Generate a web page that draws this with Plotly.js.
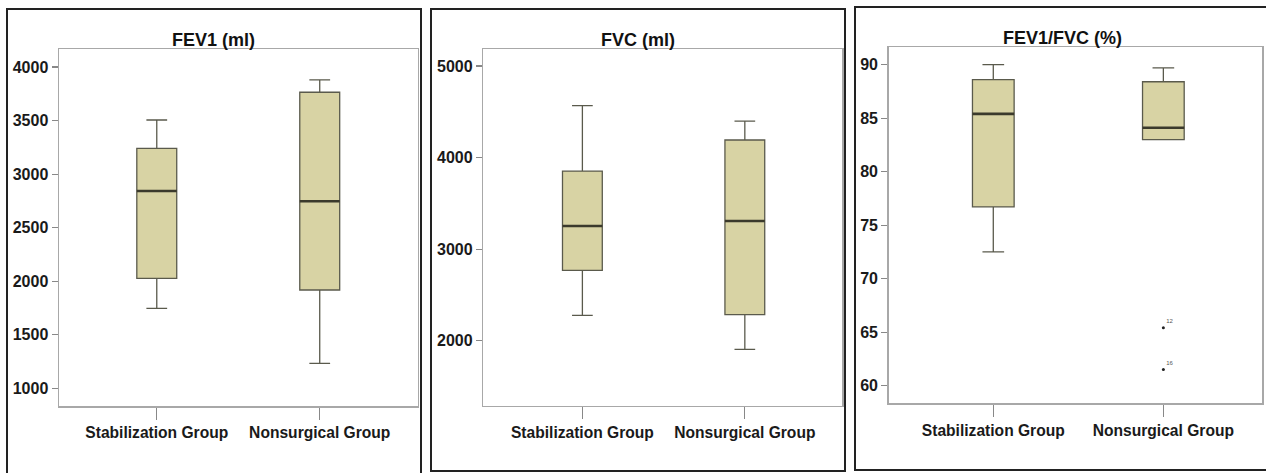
<!DOCTYPE html>
<html>
<head>
<meta charset="utf-8">
<script src="https://cdn.plot.ly/plotly-3.0.1.min.js"></script>
<style>
  html, body { margin: 0; padding: 0; background: #ffffff; }
  #chart { width: 1266px; height: 473px; }
</style>
</head>
<body>
<div id="chart"></div>
<script>
// ---- data ----
const groups = ["Stabilization Group", "Nonsurgical Group"];

// FEV1 (ml)
const fev1Lower  = [1747, 1233];
const fev1Q1     = [2027, 1918];
const fev1Median = [2842, 2746];
const fev1Q3     = [3241, 3764];
const fev1Upper  = [3505, 3879];
const fev1Ticks  = [1000, 1500, 2000, 2500, 3000, 3500, 4000];

// FVC (ml)
const fvcLower  = [2277, 1906];
const fvcQ1     = [2769, 2284];
const fvcMedian = [3253, 3307];
const fvcQ3     = [3853, 4192];
const fvcUpper  = [4567, 4399];
const fvcTicks  = [2000, 3000, 4000, 5000];

// FEV1/FVC (%)
const ratioLower  = [72.5, 83.0];
const ratioQ1     = [76.7, 83.0];
const ratioMedian = [85.4, 84.1];
const ratioQ3     = [88.6, 88.4];
const ratioUpper  = [90.0, 89.7];
const ratioTicks  = [60, 65, 70, 75, 80, 85, 90];

// outliers (FEV1/FVC, Nonsurgical Group)
const outlierGroup  = ["Nonsurgical Group", "Nonsurgical Group"];
const outlierValues = [65.4, 61.5];
const outlierLabels = ["12", "16"];

const titles = ["FEV1 (ml)", "FVC (ml)", "FEV1/FVC (%)"];

// ---- styling ----
const W = 1266, H = 473;
const px = v => v / W;
const py = v => 1 - v / H;

const boxFill = "rgb(216,211,164)";
const boxLine = "#5a5a4c";
const BOX_W = 0.245;

function boxTrace(xa, ya, lower, q1, med, q3, upper) {
  return {
    type: "box",
    x: groups,
    q1: q1, median: med, q3: q3,
    lowerfence: lower, upperfence: upper,
    xaxis: xa, yaxis: ya,
    fillcolor: boxFill,
    line: { color: boxLine, width: 1.3 },
    whiskerwidth: 0.52,
    width: BOX_W,
    boxpoints: false,
    hoverinfo: "skip",
    showlegend: false
  };
}

const traces = [
  boxTrace("x", "y", fev1Lower, fev1Q1, fev1Median, fev1Q3, fev1Upper),
  boxTrace("x2", "y2", fvcLower, fvcQ1, fvcMedian, fvcQ3, fvcUpper),
  boxTrace("x3", "y3", ratioLower, ratioQ1, ratioMedian, ratioQ3, ratioUpper),
  {
    type: "scatter",
    mode: "markers+text",
    x: outlierGroup,
    y: outlierValues,
    text: outlierLabels,
    textposition: "top right",
    textfont: { size: 6, color: "#555", family: "Liberation Sans" },
    marker: { size: 3, color: "#222" },
    xaxis: "x3", yaxis: "y3",
    hoverinfo: "skip",
    showlegend: false
  }
];

const tickFont = { family: "Liberation Sans, Arial, sans-serif", size: 16, color: "#1a1a1a", weight: "bold" };
const xTickFont = { family: "Liberation Sans, Arial, sans-serif", size: 15.6, color: "#1a1a1a", weight: "bold" };

function xAxis(d0, d1, anchor, range) {
  return {
    domain: [px(d0), px(d1)],
    anchor: anchor,
    type: "category",
    range: range,
    showline: true, mirror: true,
    linecolor: "#a8a8a8", linewidth: 1.5,
    ticks: "outside", ticklen: 12, tickwidth: 1.2, tickcolor: "#888",
    tickfont: xTickFont,
    showgrid: false, zeroline: false,
    fixedrange: true
  };
}
function yAxis(top, bottom, anchor, range, tickv) {
  return {
    domain: [py(bottom), py(top)],
    anchor: anchor,
    range: range,
    tickvals: tickv,
    ticktext: tickv.map(String),
    showline: true, mirror: true,
    linecolor: "#a8a8a8", linewidth: 1.5,
    ticks: "outside", ticklen: 6, tickwidth: 1.2, tickcolor: "#888",
    tickfont: tickFont,
    showgrid: false, zeroline: false,
    fixedrange: true
  };
}

function frame(x0, y0, x1, y1) {
  return {
    type: "rect", xref: "paper", yref: "paper",
    x0: px(x0), x1: px(x1), y0: py(y1), y1: py(y0),
    line: { color: "#222", width: 2 },
    fillcolor: "rgba(0,0,0,0)",
    layer: "above"
  };
}

// thicker, darker median bars (SPSS style), placed from the median arrays
function medianLines(xa, ya, med) {
  return med.map((m, i) => ({
    type: "line", xref: xa, yref: ya,
    x0: i - BOX_W / 2, x1: i + BOX_W / 2, y0: m, y1: m,
    line: { color: "#3b3a2c", width: 2.6 },
    layer: "above"
  }));
}

function titleAnn(text, cx, cy) {
  return {
    text: text, xref: "paper", yref: "paper",
    x: px(cx), y: py(cy), xanchor: "center", yanchor: "middle",
    showarrow: false,
    font: { family: "Liberation Sans, Arial, sans-serif", size: 18, color: "#111", weight: "bold" }
  };
}

const layout = {
  width: W, height: H,
  margin: { l: 0, r: 0, t: 0, b: 0 },
  paper_bgcolor: "#ffffff",
  plot_bgcolor: "#ffffff",
  showlegend: false,
  boxmode: "overlay",
  xaxis:  xAxis(59, 417.5, "y", [-0.6, 1.6]),
  yaxis:  yAxis(49, 406, "x", [835, 4168], fev1Ticks),
  xaxis2: xAxis(483.3, 842.3, "y2", [-0.61, 1.6]),
  yaxis2: yAxis(49, 405.7, "x2", [1290, 5186], fvcTicks),
  xaxis3: xAxis(888.7, 1262, "y3", [-0.615, 1.58]),
  yaxis3: yAxis(47.3, 403.3, "x3", [58.35, 91.62], ratioTicks),
  shapes: [
    frame(7, 9, 421, 476),
    frame(431, 9, 845, 471),
    frame(855, 7, 1270, 470)
  ].concat(
    medianLines("x", "y", fev1Median),
    medianLines("x2", "y2", fvcMedian),
    medianLines("x3", "y3", ratioMedian)
  ),
  annotations: [
    titleAnn(titles[0], 214, 40),
    titleAnn(titles[1], 638, 40),
    titleAnn(titles[2], 1062, 38)
  ]
};

Plotly.newPlot("chart", traces, layout, { staticPlot: true, displayModeBar: false });
</script>
</body>
</html>
